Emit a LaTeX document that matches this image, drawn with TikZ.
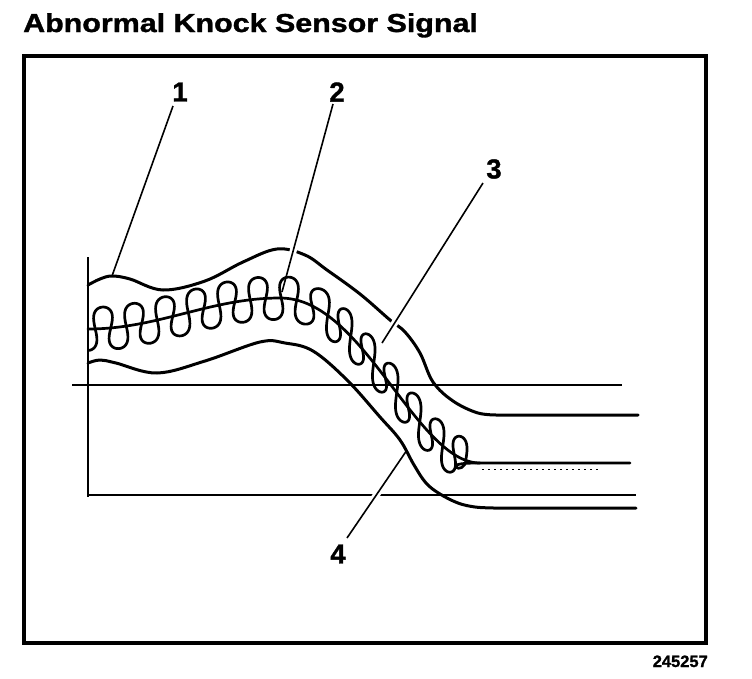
\documentclass[tikz,border=0pt]{standalone}
\usepackage{fontspec}
\setmainfont{Liberation Sans}
\newfontfamily\heavyfont[FakeBold=1.2]{Liberation Sans Bold}
\begin{document}
\begin{tikzpicture}[x=1pt,y=-1pt,
  frame/.style={line width=3.5pt},
  env/.style={line width=3pt, line join=round, line cap=round},
  sig/.style={line width=2.7pt, line join=round, line cap=round},
  axisline/.style={line width=2.5pt},
  leader/.style={line width=1.6pt},
  halo/.style={draw=white, line width=7pt},
  lab/.style={font=\fontsize{27.5}{27.5}\heavyfont, inner sep=0pt},
  declare function={
    uu(\x) = min(max(\x-280,0),200)/200;
    cen(\x) = 298 + 15.5*(1+cos(0.9375*min(max(\x-88,0),192))) + 82.5*(1-cos(180*uu(\x)*(0.85+0.15*uu(\x))));
    xl(\t) = 95.25+31*min(\t,7.5)+23*max(\t-7.5,0);
    bb(\t) = 4.9-1.2*(\t>7.5);
  }]
\useasboundingbox (0,0) rectangle (752,678);
% title and code
\node[anchor=base west, inner sep=0pt, font=\fontsize{26}{26}\heavyfont] (title) at (23,32) {\scalebox{1.17}[1]{Abnormal Knock Sensor Signal}};
\node[anchor=base east, inner sep=0pt, font=\fontsize{16.5}{16.5}\heavyfont] (code) at (708,667) {245257};
% frame
\draw[frame] (24,56) rectangle (706,643);
% axes
\draw[axisline] (88,257) -- (88,497);
\draw[line width=2pt] (72,385) -- (622,385);
\draw[axisline] (88,495) -- (636,495);
% upper envelope
\draw[env] plot[smooth, tension=0.6] coordinates {(88,285) (100,279) (112,276) (130,279) (163,290) (205,281) (243,262) (277,249) (305,255) (327,270) (360,294) (390,320) (405,332) (420,353) (433,382) (453,401) (478,413) (500,415)} -- (638,415);
% lower envelope
\draw[env] plot[smooth, tension=0.6] coordinates {(88,363) (100,360) (116,363) (157,373) (205,361) (260,342) (285,343) (313,351) (347,380) (380,417) (400,440) (414,465) (426,483) (440,494) (458,503) (475,507) (494,508)} -- (636,508);
% centre line
\draw[sig] plot[domain=88:480, samples=160] (\x, {cen(\x)}) -- (630,463);
% oscillating signal
\draw[sig] plot[variable=\t, domain=-0.24:13.5, samples=900] ({xl(\t) - bb(\t)*sin(720*\t)}, {cen(xl(\t)) - 21.5*sin(360*\t)})
  .. controls (466,468) and (458,470) .. (456,467) .. controls (455,464) and (462,463) .. (480,463);
\draw[line width=1pt, dash pattern=on 2pt off 4pt] (482,469) -- (600,469);
% labels
\node[lab] (n1) at (180,92) {1};
\node[lab] (n2) at (337,92) {2};
\node[lab] (n3) at (494,169) {3};
\node[lab] (n4) at (338,554) {4};
\coordinate (s1) at (173,106); \coordinate (e1) at (112,276);
\coordinate (s2) at (333,104); \coordinate (e2) at (282,292);
\coordinate (s3) at (483,183); \coordinate (e3) at (382,343);
\coordinate (s4) at (347,538); \coordinate (e4) at (407,450);
% halos (gaps)
\draw[halo, shorten <=60pt, shorten >=25pt] (s2) -- (e2);
\draw[halo, shorten <=60pt, shorten >=14pt] (s3) -- (e3);
\draw[halo, shorten <=20pt, shorten >=20pt] (s4) -- (e4);
% leaders
\draw[leader] (s1) -- (e1);
\draw[leader] (s2) -- (e2);
\draw[leader] (s3) -- (e3);
\draw[leader] (s4) -- (e4);
\end{tikzpicture}
\end{document}
